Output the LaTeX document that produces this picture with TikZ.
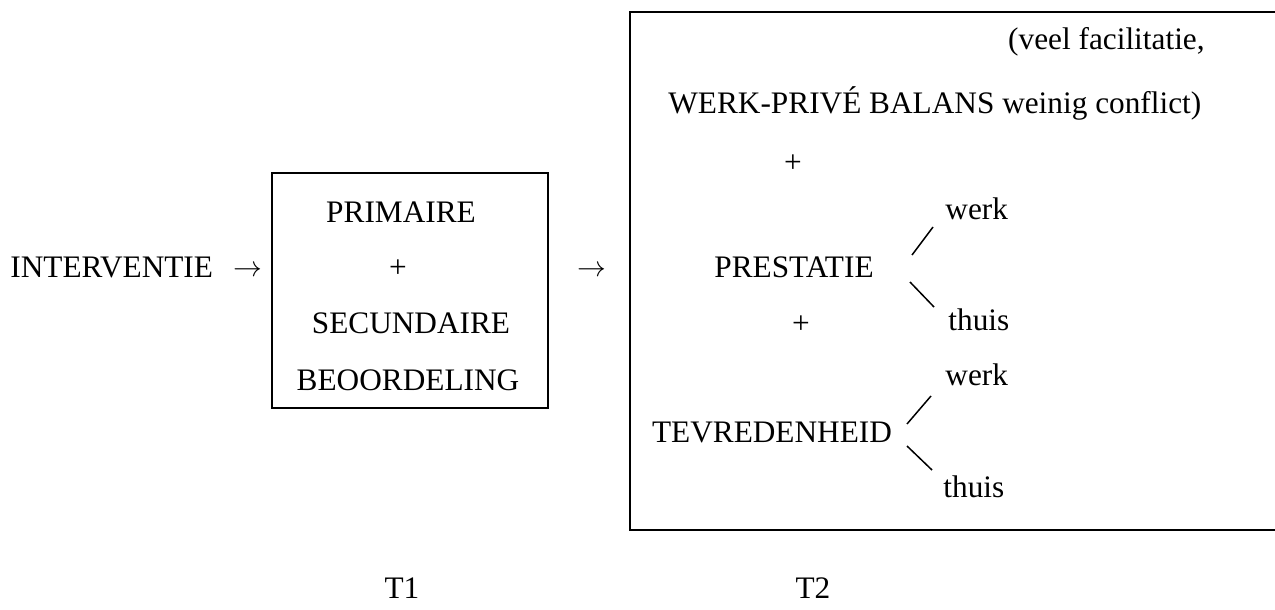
\documentclass[tikz,border=0pt]{standalone}
\usepackage{fontspec}
\setmainfont{Liberation Serif}
\begin{document}
\begin{tikzpicture}[x=0.5pt,y=-0.5pt,
  lbl/.style={inner sep=0pt, anchor=base, font=\fontsize{15.65}{18}\selectfont},
  frame/.style={draw, line width=1pt, inner sep=0pt},
  tick/.style={line width=0.75pt}]
\useasboundingbox (0,0) rectangle (1275,610);

% left part: intervention and appraisal box
\node[lbl, anchor=base west] (interv) at (10,277) {INTERVENTIE};
\node[lbl] (arr1) at (248,276) {$\rightarrow$};
\node[frame, minimum width=138pt, minimum height=117.5pt] (appr) at (410,290.5) {};
\node[lbl] (prim) at (401,222) {PRIMAIRE};
\node[lbl] (plus1) at (398,277) {+};
\node[lbl] (sec) at (411,333) {SECUNDAIRE};
\node[lbl] (beo) at (408,390) {BEOORDELING};
\node[lbl] (arr2) at (592,276) {$\rightarrow$};

% right part: outcomes box
\node[frame, minimum width=325pt, minimum height=259pt] (out) at (955,271) {};
\node[lbl, anchor=base east] (fac) at (1205,50) {(veel facilitatie,};
\node[lbl, anchor=base west] (wpb) at (668,114) {WERK-PRIVÉ BALANS weinig conflict)};
\node[lbl] (plus2) at (793,172) {+};
\node[lbl] (prest) at (794,277) {PRESTATIE};
\node[lbl, anchor=base west] (pw) at (945,220) {werk};
\node[lbl, anchor=base west] (pt) at (948,330) {thuis};
\node[lbl] (plus3) at (801,333) {+};
\node[lbl] (tevr) at (772,442) {TEVREDENHEID};
\node[lbl, anchor=base west] (tw) at (945,385) {werk};
\node[lbl, anchor=base west] (tt) at (943,497) {thuis};

% branch strokes
\coordinate (pwa) at (912,255);
\coordinate (pwb) at (933,227);
\coordinate (pta) at (910,282);
\coordinate (ptb) at (934,307);
\coordinate (twa) at (907,424);
\coordinate (twb) at (931,396);
\coordinate (tta) at (907,446);
\coordinate (ttb) at (932,470);
\draw[tick] (pwa) -- (pwb);
\draw[tick] (pta) -- (ptb);
\draw[tick] (twa) -- (twb);
\draw[tick] (tta) -- (ttb);

% time points
\node[lbl] (t1) at (402,598) {T1};
\node[lbl] (t2) at (813,598) {T2};
\end{tikzpicture}
\end{document}
